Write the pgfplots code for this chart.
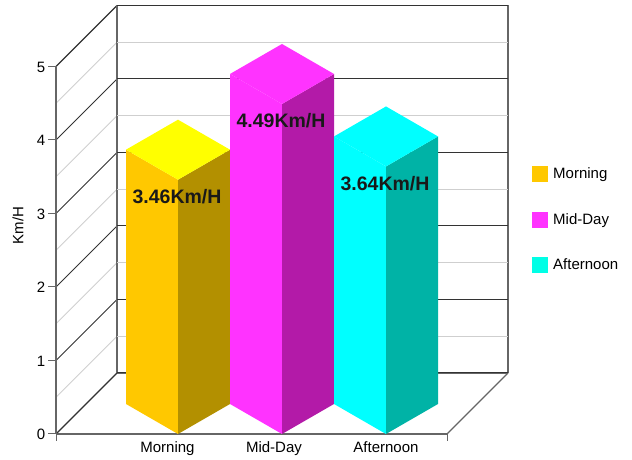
\documentclass[border=0pt]{standalone}
\usepackage{pgfplots}
\pgfplotsset{compat=1.18}
\usepackage{fontspec}
\setmainfont{Liberation Sans}
\definecolor{axisgrey}{HTML}{666666}
\definecolor{gridmajor}{HTML}{333333}
\definecolor{gridminor}{HTML}{CFCFCF}
\definecolor{mornfront}{HTML}{FFC800}
\definecolor{morntop}{HTML}{FFFF00}
\definecolor{mornside}{HTML}{B39000}
\definecolor{midfront}{HTML}{FF33FF}
\definecolor{midtop}{HTML}{FF33FF}
\definecolor{midside}{HTML}{B31AA8}
\definecolor{aftfront}{HTML}{00FFFF}
\definecolor{afttop}{HTML}{00FFFF}
\definecolor{aftside}{HTML}{00B3A6}
\definecolor{aftkey}{HTML}{00FFE6}
\begin{document}
\begin{tikzpicture}
\path[use as bounding box] (0,0) rectangle (632pt,460pt);
\begin{axis}[
  at={(56pt,26pt)}, anchor=origin,
  x={(1pt,0pt)}, y={(1pt,1pt)}, z={(0pt,73.5pt)},
  xmin=0, xmax=391, ymin=0, ymax=61, zmin=0, zmax=5,
  clip=false,
  font=\fontsize{15}{17}\selectfont,
  /pgf/number format/assume math mode=true,
  ztick={0,1,2,3,4,5},
  minor z tick num=1,
  zmajorgrids=true, zminorgrids=true,
  major z grid style={gridmajor, line width=1pt},
  minor z grid style={gridminor, line width=0.9pt},
  xtick={111.5,218,330},
  xticklabels={Morning,Mid-Day,Afternoon},
  ytick=\empty,
  xtick style={draw=none},
  ztick style={draw=none},
  minor tick length=0pt,
  major tick length=0pt,
  axis line style={axisgrey, line width=1.3pt},
  x tick label style={anchor=north, yshift=-4pt},
  z tick label style={anchor=center, xshift=-15pt, yshift=-0.5pt},
  legend style={draw=none, fill=none, at={(473pt,214.5pt)}, anchor=west, row sep=29pt,
    font=\fontsize{15}{17}\selectfont},
  legend cell align=left,
  legend image code/.code={\fill[#1] (0pt,-8pt) rectangle (16pt,8pt); \path (19pt,0pt);},
]
% Morning
\addplot3[fill=mornfront, draw=none, forget plot] coordinates {(122,0,0) (122,0,3.46) (40,30,3.46) (40,30,0)} -- cycle;
\addplot3[fill=mornside, draw=none, forget plot] coordinates {(122,0,0) (122,0,3.46) (144,30,3.46) (144,30,0)} -- cycle;
\addplot3[fill=morntop, draw=none, forget plot] coordinates {(122,0,3.46) (144,30,3.46) (62,60,3.46) (40,30,3.46)} -- cycle;
% Mid-Day
\addplot3[fill=midfront, draw=none, forget plot] coordinates {(226,0,0) (226,0,4.49) (144,30,4.49) (144,30,0)} -- cycle;
\addplot3[fill=midside, draw=none, forget plot] coordinates {(226,0,0) (226,0,4.49) (248,30,4.49) (248,30,0)} -- cycle;
\addplot3[fill=midtop, draw=none, forget plot] coordinates {(226,0,4.49) (248,30,4.49) (166,60,4.49) (144,30,4.49)} -- cycle;
% Afternoon
\addplot3[fill=aftfront, draw=none, forget plot] coordinates {(330,0,0) (330,0,3.64) (248,30,3.64) (248,30,0)} -- cycle;
\addplot3[fill=aftside, draw=none, forget plot] coordinates {(330,0,0) (330,0,3.64) (352,30,3.64) (352,30,0)} -- cycle;
\addplot3[fill=afttop, draw=none, forget plot] coordinates {(330,0,3.64) (352,30,3.64) (270,60,3.64) (248,30,3.64)} -- cycle;
% Value labels sit just below the front corner of each bar
\node[font=\fontsize{19.5}{21}\selectfont\bfseries, text=black!90, yshift=-17pt, xshift=-1pt] at (axis cs:122,0,3.46) {3.46Km/H};
\node[font=\fontsize{19.5}{21}\selectfont\bfseries, text=black!90, yshift=-17pt, xshift=-1pt] at (axis cs:226,0,4.49) {4.49Km/H};
\node[font=\fontsize{19.5}{21}\selectfont\bfseries, text=black!90, yshift=-17pt, xshift=-1pt] at (axis cs:330,0,3.64) {3.64Km/H};
% Tick marks on the value axis and at both ends of the front edge
\pgfplotsinvokeforeach{0,1,2,3,4,5}{
  \draw[axisgrey, line width=1pt] (axis cs:0,0,#1) -- ++(-8pt,0pt);
}
\draw[axisgrey, line width=1pt] (axis cs:0,0,0) -- ++(0pt,-7pt);
\draw[axisgrey, line width=1pt] (axis cs:391,0,0) -- ++(0pt,-7pt);
\node[rotate=90] at (axis cs:0,0,2.84) [xshift=0pt, yshift=38pt] {Km/H};
\addlegendimage{fill=mornfront, draw=none}
\addlegendentry{Morning}
\addlegendimage{fill=midfront, draw=none}
\addlegendentry{Mid-Day}
\addlegendimage{fill=aftkey, draw=none}
\addlegendentry{Afternoon}
\end{axis}
\end{tikzpicture}
\end{document}
